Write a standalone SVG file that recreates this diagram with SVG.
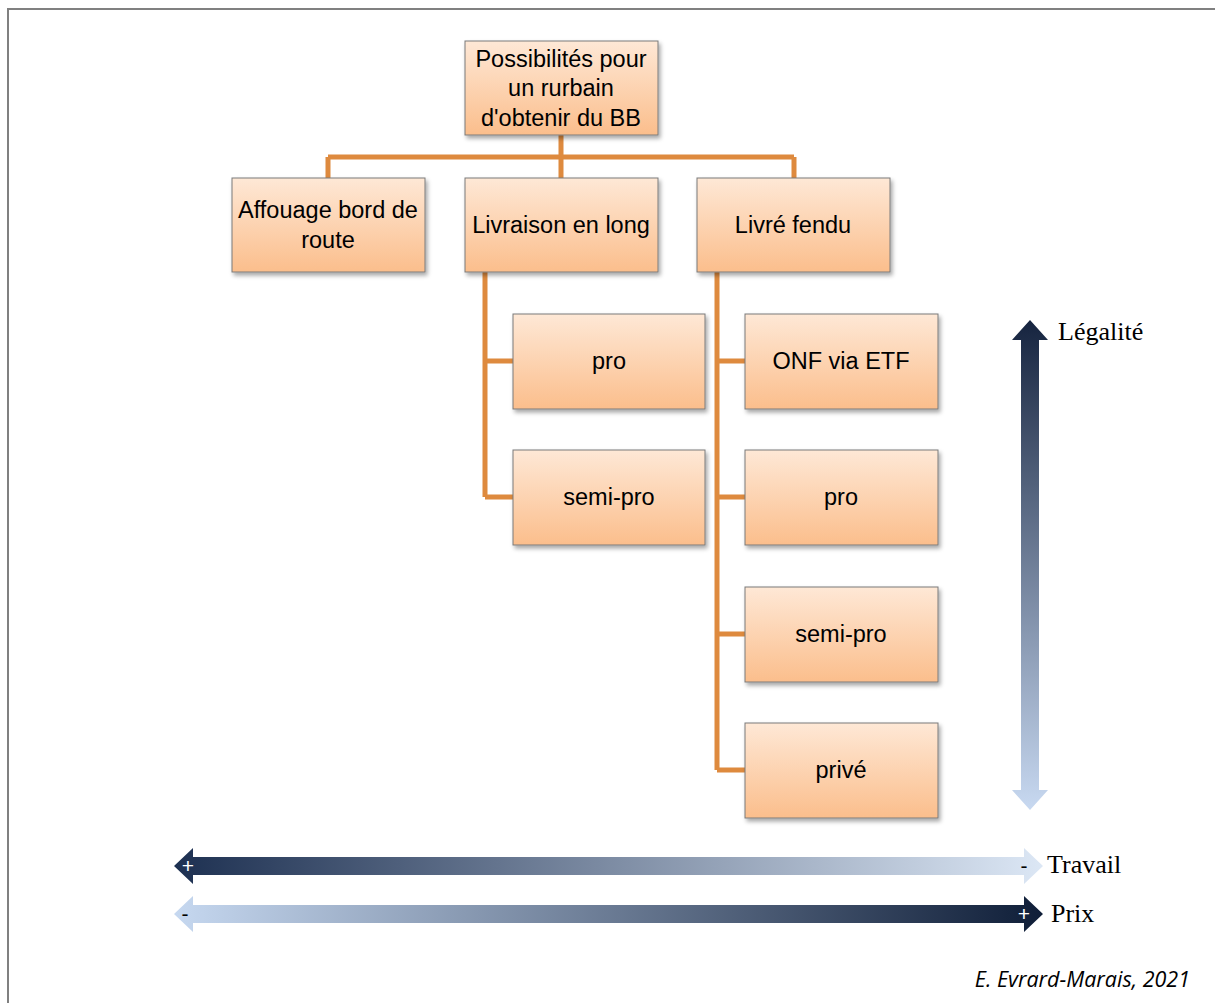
<svg xmlns="http://www.w3.org/2000/svg" width="1215" height="1003" viewBox="0 0 1215 1003">
<defs>
<linearGradient id="box" x1="0" y1="0" x2="0" y2="1">
<stop offset="0" stop-color="#FEE8D6"/>
<stop offset="1" stop-color="#FBBE8C"/>
</linearGradient>
<linearGradient id="vleg" x1="0" y1="0" x2="0" y2="1">
<stop offset="0" stop-color="#16243F"/>
<stop offset="1" stop-color="#C8D9F1"/>
</linearGradient>
<linearGradient id="htrav" x1="0" y1="0" x2="1" y2="0">
<stop offset="0" stop-color="#1D3051"/>
<stop offset="1" stop-color="#DCE7F5"/>
</linearGradient>
<linearGradient id="hprix" x1="0" y1="0" x2="1" y2="0">
<stop offset="0" stop-color="#C6D8F0"/>
<stop offset="1" stop-color="#0F1E38"/>
</linearGradient>
<filter id="sh" x="-10%" y="-10%" width="125%" height="130%">
<feDropShadow dx="2" dy="3" stdDeviation="2" flood-color="#000" flood-opacity="0.35"/>
</filter>
<style>
.node rect{fill:url(#box);stroke:#7A7A7A;stroke-width:1;filter:url(#sh)}
.node text{font-family:"Liberation Sans",Arial,sans-serif;font-size:23.5px;fill:#000;text-anchor:middle}
.conn{fill:none;stroke:#DE8A3E;stroke-width:5}
.lbl{font-family:"Liberation Serif","Times New Roman",serif;font-size:26px;fill:#000}
.sign{font-family:"Liberation Sans",Arial,sans-serif;font-size:21px;text-anchor:middle}
</style>
</defs>
<rect x="0" y="0" width="1215" height="1003" fill="#fff"/>
<path d="M8 1003 V9 H1215" fill="none" stroke="#808080" stroke-width="2"/>

<g id="connectors">
<path class="conn" d="M561 135 V157 M328 157 H794 M328 157 V178 M561 157 V178 M794 157 V178"/>
<path class="conn" d="M485 272 V497 M485 361 H513 M485 497 H513"/>
<path class="conn" d="M717 272 V770 M717 361 H745 M717 497 H745 M717 634 H745 M717 770 H745"/>
</g>

<g id="root" class="node"><rect x="465" y="41" width="193" height="94"/>
<text x="561" y="67">Possibilités pour</text><text x="561" y="96">un rurbain</text><text x="561" y="126">d'obtenir du BB</text></g>
<g id="affouage" class="node"><rect x="232" y="178" width="193" height="94"/>
<text x="328" y="218">Affouage bord de</text><text x="328" y="248">route</text></g>
<g id="livraison" class="node"><rect x="465" y="178" width="193" height="94"/>
<text x="561" y="233">Livraison en long</text></g>
<g id="livre" class="node"><rect x="697" y="178" width="193" height="94"/>
<text x="793" y="233">Livré fendu</text></g>
<g id="l-pro" class="node"><rect x="513" y="314" width="192" height="95"/>
<text x="609" y="369">pro</text></g>
<g id="l-semipro" class="node"><rect x="513" y="450" width="192" height="95"/>
<text x="609" y="505">semi-pro</text></g>
<g id="f-onf" class="node"><rect x="745" y="314" width="193" height="95"/>
<text x="841" y="369">ONF via ETF</text></g>
<g id="f-pro" class="node"><rect x="745" y="450" width="193" height="95"/>
<text x="841" y="505">pro</text></g>
<g id="f-semipro" class="node"><rect x="745" y="587" width="193" height="95"/>
<text x="841" y="642">semi-pro</text></g>
<g id="f-prive" class="node"><rect x="745" y="723" width="193" height="95"/>
<text x="841" y="778">privé</text></g>

<g id="legalite">
<path d="M1030 320 L1048 340 H1039 V790 H1048 L1030 810 L1012 790 H1021 V340 H1012 Z" fill="url(#vleg)"/>
<text class="lbl" x="1058" y="340">Légalité</text>
</g>
<g id="travail">
<path d="M174 866 L193 848 V857 H1024 V848 L1043 866 L1024 884 V875 H193 V884 Z" fill="url(#htrav)"/>
<text class="sign" x="188" y="873" fill="#fff">+</text>
<text class="sign" x="1024" y="873" fill="#000">-</text>
<text class="lbl" x="1047" y="873">Travail</text>
</g>
<g id="prix">
<path d="M174 914 L193 896 V905 H1024 V896 L1043 914 L1024 932 V923 H193 V932 Z" fill="url(#hprix)"/>
<text class="sign" x="185" y="921" fill="#000">-</text>
<text class="sign" x="1024" y="921" fill="#fff">+</text>
<text class="lbl" x="1051" y="922">Prix</text>
</g>
<text x="1190" y="987" text-anchor="end" font-family="'Open Sans','Liberation Sans',sans-serif" font-style="italic" font-size="21.5" fill="#000">E. Evrard-Marais, 2021</text>
</svg>
